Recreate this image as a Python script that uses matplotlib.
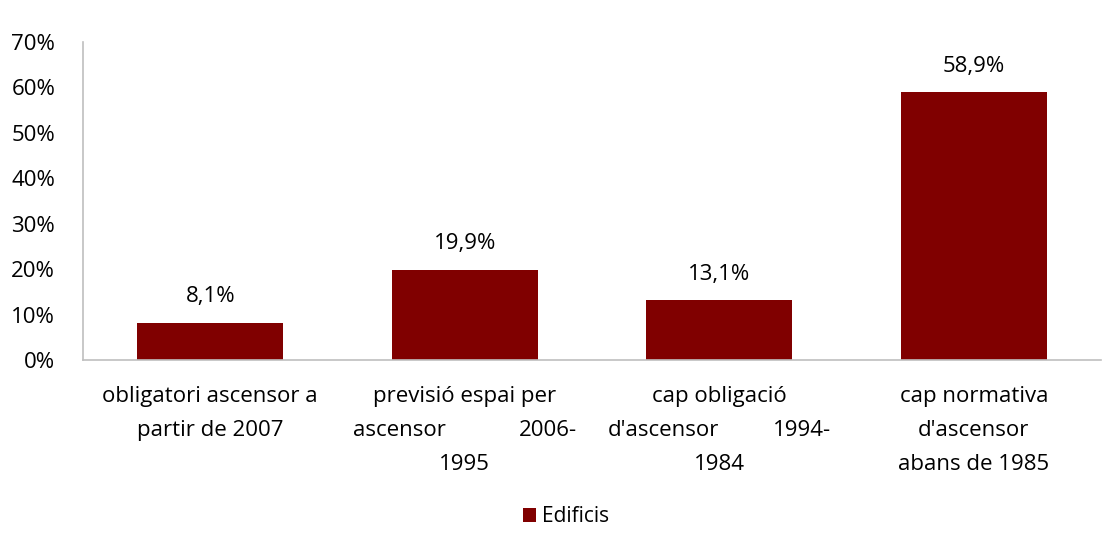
import matplotlib.pyplot as plt
import numpy as np

plt.rcParams['font.family'] = ['Open Sans', 'DejaVu Sans']

# categories as wrapped lines; a tuple is a justified line (left part, right part)
categories = [
    ["obligatori ascensor a", "partir de 2007"],
    ["previsió espai per", ("ascensor", "2006-"), "1995"],
    ["cap obligació", ("d'ascensor", "1994-"), "1984"],
    ["cap normativa", "d'ascensor", "abans de 1985"],
]
values = [8.1, 19.9, 13.1, 58.9]
value_labels = ["8,1%", "19,9%", "13,1%", "58,9%"]
yticks = [0, 10, 20, 30, 40, 50, 60, 70]
series_name = "Edificis"

color = '#800000'
fs = 16
W, H = 1117, 549
fig = plt.figure(figsize=(W / 100, H / 100), dpi=100)
ax = fig.add_axes([83 / W, 1 - 360 / H, (1101 - 83) / W, (360 - 42) / H])

x = np.arange(len(values))
bars = ax.bar(x, values, width=0.574, color=color, label=series_name, zorder=2)
ax.set_xlim(-0.5, len(values) - 0.5)
ax.set_ylim(0, 70)
ax.set_yticks(yticks)
ax.set_yticklabels([f"{t}%" for t in yticks], fontsize=fs)
ax.tick_params(axis='y', length=0, pad=20)
ax.set_xticks([])
for s in ['top', 'right']:
    ax.spines[s].set_visible(False)
for s in ['left', 'bottom']:
    ax.spines[s].set_color('#bfbfbf')
    ax.spines[s].set_linewidth(1.2)

for b, lab in zip(bars, value_labels):
    ax.annotate(lab, (b.get_x() + b.get_width() / 2, b.get_height()),
                xytext=(0, 19), textcoords='offset points',
                ha='center', va='center', fontsize=fs)

# category labels, drawn below the axis in axes-fraction y
just_half = 0.44
line_y = [-0.115, -0.222, -0.329]
for i, lines in enumerate(categories):
    for j, line in enumerate(lines):
        yy = line_y[j]
        if isinstance(line, tuple):
            ax.text(i - just_half, yy, line[0], transform=ax.get_xaxis_transform(),
                    ha='left', va='center', fontsize=fs)
            ax.text(i + just_half, yy, line[1], transform=ax.get_xaxis_transform(),
                    ha='right', va='center', fontsize=fs)
        else:
            ax.text(i, yy, line, transform=ax.get_xaxis_transform(),
                    ha='center', va='center', fontsize=fs)

fig.legend(handles=[bars[0]], labels=[series_name], loc='center',
           bbox_to_anchor=(566 / W, 1 - 517 / H), frameon=False, fontsize=15,
           handlelength=0.65, handleheight=0.65, handletextpad=0.3)

fig.savefig('out.png', dpi=100)
